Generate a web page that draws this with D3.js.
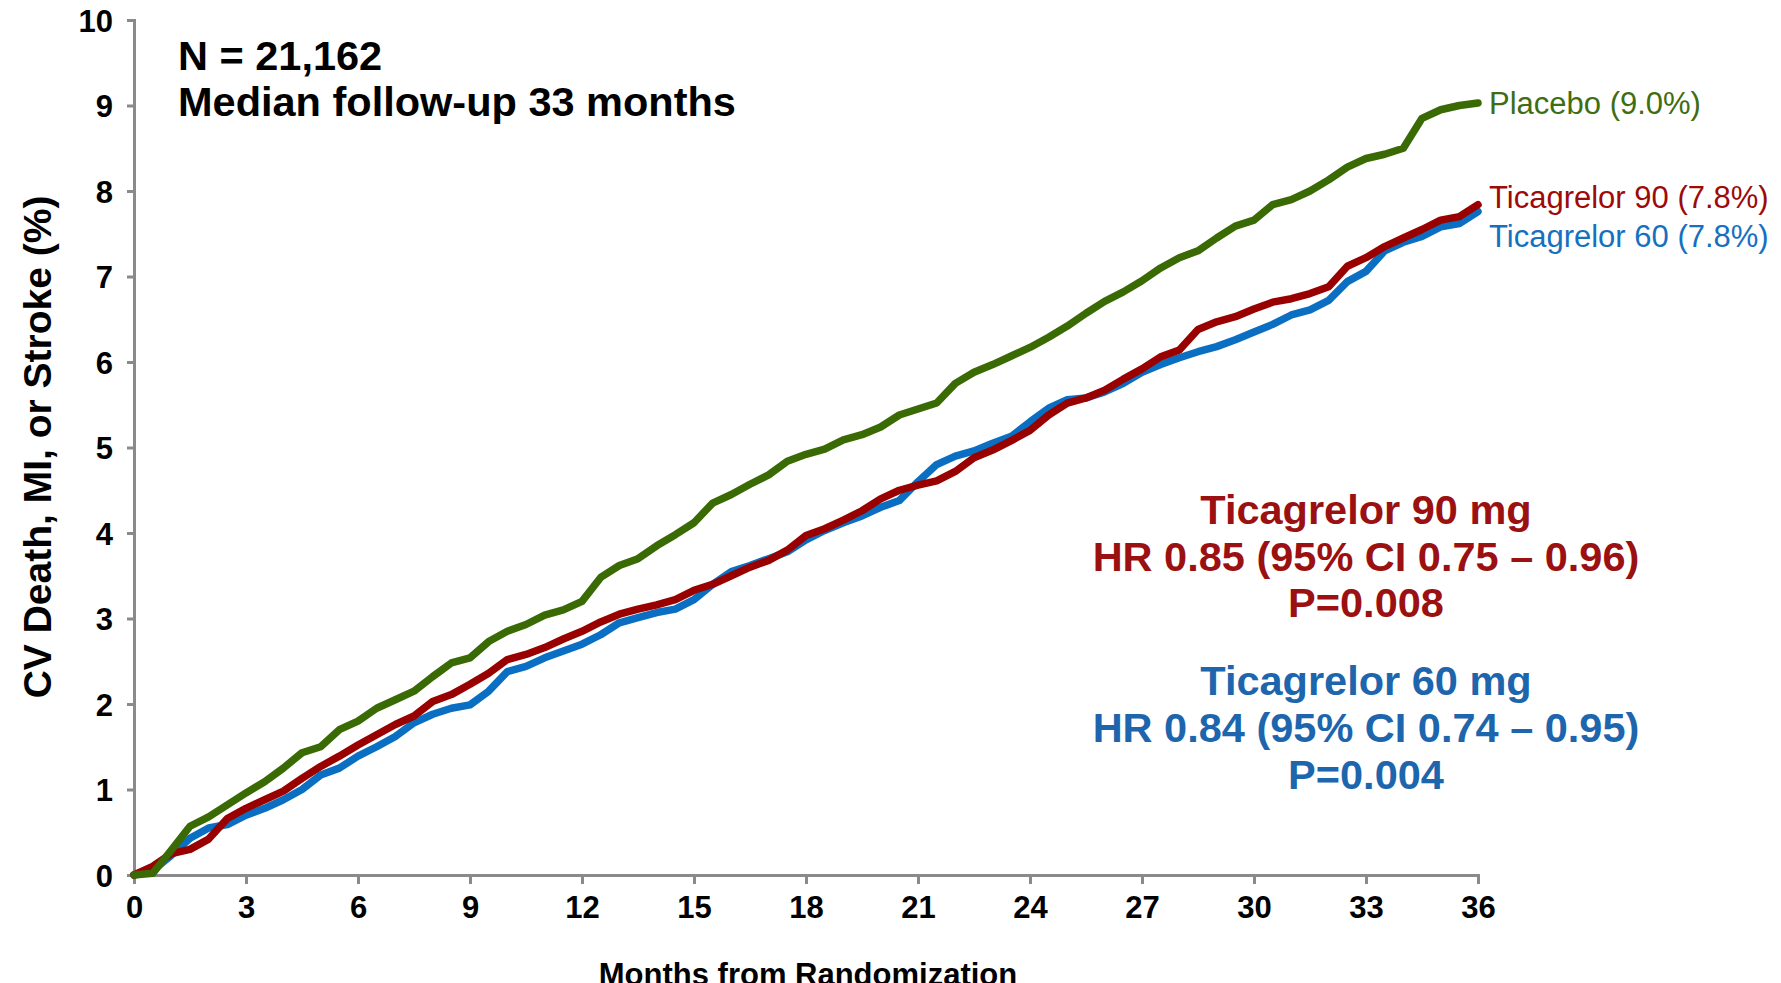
<!DOCTYPE html>
<html>
<head>
<meta charset="utf-8">
<script src="https://cdn.jsdelivr.net/npm/d3@7"></script>
<style>
  body { margin: 0; background: #fff; }
  svg text { font-family: "Liberation Sans", Arial, sans-serif; }
</style>
</head>
<body>
<div id="chart"></div>
<script>
// months from randomization, read every half month
var months = [0, 0.5, 1, 1.5, 2, 2.5, 3, 3.5, 4, 4.5, 5, 5.5, 6, 6.5, 7, 7.5, 8, 8.5,
  9, 9.5, 10, 10.5, 11, 11.5, 12, 12.5, 13, 13.5, 14, 14.5, 15, 15.5, 16, 16.5, 17, 17.5,
  18, 18.5, 19, 19.5, 20, 20.5, 21, 21.5, 22, 22.5, 23, 23.5, 24, 24.5, 25, 25.5, 26, 26.5,
  27, 27.5, 28, 28.5, 29, 29.5, 30, 30.5, 31, 31.5, 32, 32.5, 33, 33.5, 34, 34.5, 35, 35.5, 36];

var placebo = [0, 0.02, 0.29, 0.57, 0.68, 0.82, 0.96, 1.09, 1.25, 1.43, 1.50, 1.70, 1.80, 1.95,
  2.05, 2.15, 2.32, 2.48, 2.54, 2.73, 2.85, 2.93, 3.04, 3.10, 3.20, 3.48, 3.62, 3.70, 3.85, 3.98,
  4.12, 4.35, 4.45, 4.57, 4.68, 4.84, 4.92, 4.98, 5.09, 5.15, 5.24, 5.38, 5.45, 5.52, 5.75, 5.88,
  5.97, 6.07, 6.17, 6.29, 6.42, 6.57, 6.71, 6.82, 6.95, 7.10, 7.22, 7.30, 7.45, 7.59, 7.66, 7.84,
  7.90, 8.00, 8.13, 8.28, 8.38, 8.43, 8.50, 8.85, 8.95, 9.00, 9.03];

var tica90 = [0, 0.10, 0.25, 0.30, 0.42, 0.66, 0.78, 0.88, 0.98, 1.13, 1.27, 1.39, 1.52, 1.64,
  1.76, 1.86, 2.03, 2.11, 2.23, 2.36, 2.52, 2.58, 2.66, 2.76, 2.85, 2.96, 3.05, 3.11, 3.16, 3.22,
  3.33, 3.40, 3.50, 3.60, 3.68, 3.80, 3.97, 4.05, 4.15, 4.26, 4.40, 4.50, 4.56, 4.61, 4.72, 4.88,
  4.97, 5.08, 5.20, 5.38, 5.52, 5.58, 5.67, 5.80, 5.92, 6.06, 6.14, 6.38, 6.47, 6.53, 6.62, 6.70,
  6.74, 6.80, 6.88, 7.12, 7.22, 7.35, 7.45, 7.55, 7.66, 7.70, 7.84];

var tica60 = [0, 0.05, 0.23, 0.43, 0.55, 0.59, 0.70, 0.78, 0.88, 1.00, 1.17, 1.25, 1.39, 1.50,
  1.62, 1.78, 1.88, 1.95, 1.99, 2.15, 2.38, 2.44, 2.54, 2.62, 2.70, 2.81, 2.95, 3.01, 3.07, 3.11,
  3.22, 3.40, 3.55, 3.62, 3.70, 3.78, 3.92, 4.03, 4.12, 4.20, 4.30, 4.38, 4.60, 4.80, 4.90, 4.96,
  5.05, 5.13, 5.30, 5.46, 5.56, 5.58, 5.65, 5.75, 5.88, 5.97, 6.05, 6.12, 6.18, 6.26, 6.35, 6.44,
  6.55, 6.61, 6.72, 6.94, 7.06, 7.30, 7.40, 7.47, 7.58, 7.62, 7.76];

var xTicks = [0, 3, 6, 9, 12, 15, 18, 21, 24, 27, 30, 33, 36];
var yTicks = [0, 1, 2, 3, 4, 5, 6, 7, 8, 9, 10];

var endLabels = ["Placebo (9.0%)", "Ticagrelor 90 (7.8%)", "Ticagrelor 60 (7.8%)"];
var noteLines90 = ["Ticagrelor 90 mg", "HR 0.85 (95% CI 0.75 \u2013 0.96)", "P=0.008"];
var noteLines60 = ["Ticagrelor 60 mg", "HR 0.84 (95% CI 0.74 \u2013 0.95)", "P=0.004"];

var W = 1781, H = 983;
var plotLeft = 134, plotRight = 1478, plotTop = 20, plotBottom = 875;

var svg = d3.select("#chart").append("svg")
  .attr("width", W)
  .attr("height", H);

var x = d3.scaleLinear().domain([0, 36]).range([plotLeft, plotRight]);
var y = d3.scaleLinear().domain([0, 10]).range([plotBottom, plotTop]);

// axes
var axisColor = "#8a8a8a";

var gx = svg.append("g")
  .attr("transform", "translate(0," + plotBottom + ")")
  .call(d3.axisBottom(x).tickValues(xTicks).tickSize(9).tickPadding(12));

var gy = svg.append("g")
  .attr("transform", "translate(" + plotLeft + ",0)")
  .call(d3.axisLeft(y).tickValues(yTicks).tickSize(7).tickPadding(14));

[gx, gy].forEach(function (g) {
  g.select(".domain").attr("stroke", axisColor).attr("stroke-width", 3);
  g.selectAll(".tick line").attr("stroke", axisColor).attr("stroke-width", 3);
  g.selectAll(".tick text")
    .attr("fill", "#000")
    .style("font-size", "31px")
    .style("font-weight", "bold")
    .style("font-family", "'Liberation Sans', Arial, sans-serif");
});
gy.selectAll(".tick text").attr("dy", "0.36em");

// axis titles
svg.append("text")
  .attr("transform", "translate(51,447) rotate(-90)")
  .attr("text-anchor", "middle")
  .style("font-size", "39px")
  .style("font-weight", "bold")
  .text("CV Death, MI, or Stroke (%)");

svg.append("text")
  .attr("x", 808)
  .attr("y", 985)
  .attr("text-anchor", "middle")
  .style("font-size", "31px")
  .style("font-weight", "bold")
  .text("Months from Randomization");

// curves
var series = [
  { name: "tica60", values: tica60, color: "#0a6fc2" },
  { name: "tica90", values: tica90, color: "#990000" },
  { name: "placebo", values: placebo, color: "#3a6a04" }
];

var line = d3.line()
  .x(function (d) { return x(d[0]); })
  .y(function (d) { return y(d[1]); });

svg.append("g").selectAll("path")
  .data(series)
  .enter()
  .append("path")
  .attr("d", function (s) { return line(months.map(function (m, i) { return [m, s.values[i]]; })); })
  .attr("fill", "none")
  .attr("stroke", function (s) { return s.color; })
  .attr("stroke-width", 7.5)
  .attr("stroke-linejoin", "round")
  .attr("stroke-linecap", "round");

// end labels
var labelColors = ["#3f6d12", "#9c0a0a", "#1670c0"];
var labelY = [103, 197, 236];
svg.append("g").selectAll("text")
  .data(endLabels)
  .enter()
  .append("text")
  .attr("x", 1489)
  .attr("y", function (d, i) { return labelY[i]; })
  .attr("dy", "0.35em")
  .attr("fill", function (d, i) { return labelColors[i]; })
  .style("font-size", "31px")
  .text(function (d) { return d; });

// top-left note
svg.append("text")
  .attr("x", 178).attr("y", 70)
  .style("font-size", "41.5px").style("font-weight", "bold")
  .text("N = 21,162");
svg.append("text")
  .attr("x", 178).attr("y", 116)
  .style("font-size", "41.5px").style("font-weight", "bold")
  .text("Median follow-up 33 months");

// hazard ratio notes
function noteBlock(lines, baselines, color) {
  svg.append("g").selectAll("text")
    .data(lines)
    .enter()
    .append("text")
    .attr("x", 1366)
    .attr("y", function (d, i) { return baselines[i]; })
    .attr("text-anchor", "middle")
    .attr("fill", color)
    .style("font-size", "41.5px")
    .style("font-weight", "bold")
    .text(function (d) { return d; });
}
noteBlock(noteLines90, [524, 571, 617], "#9b1010");
noteBlock(noteLines60, [695, 742, 789], "#1d66ad");
</script>
</body>
</html>
